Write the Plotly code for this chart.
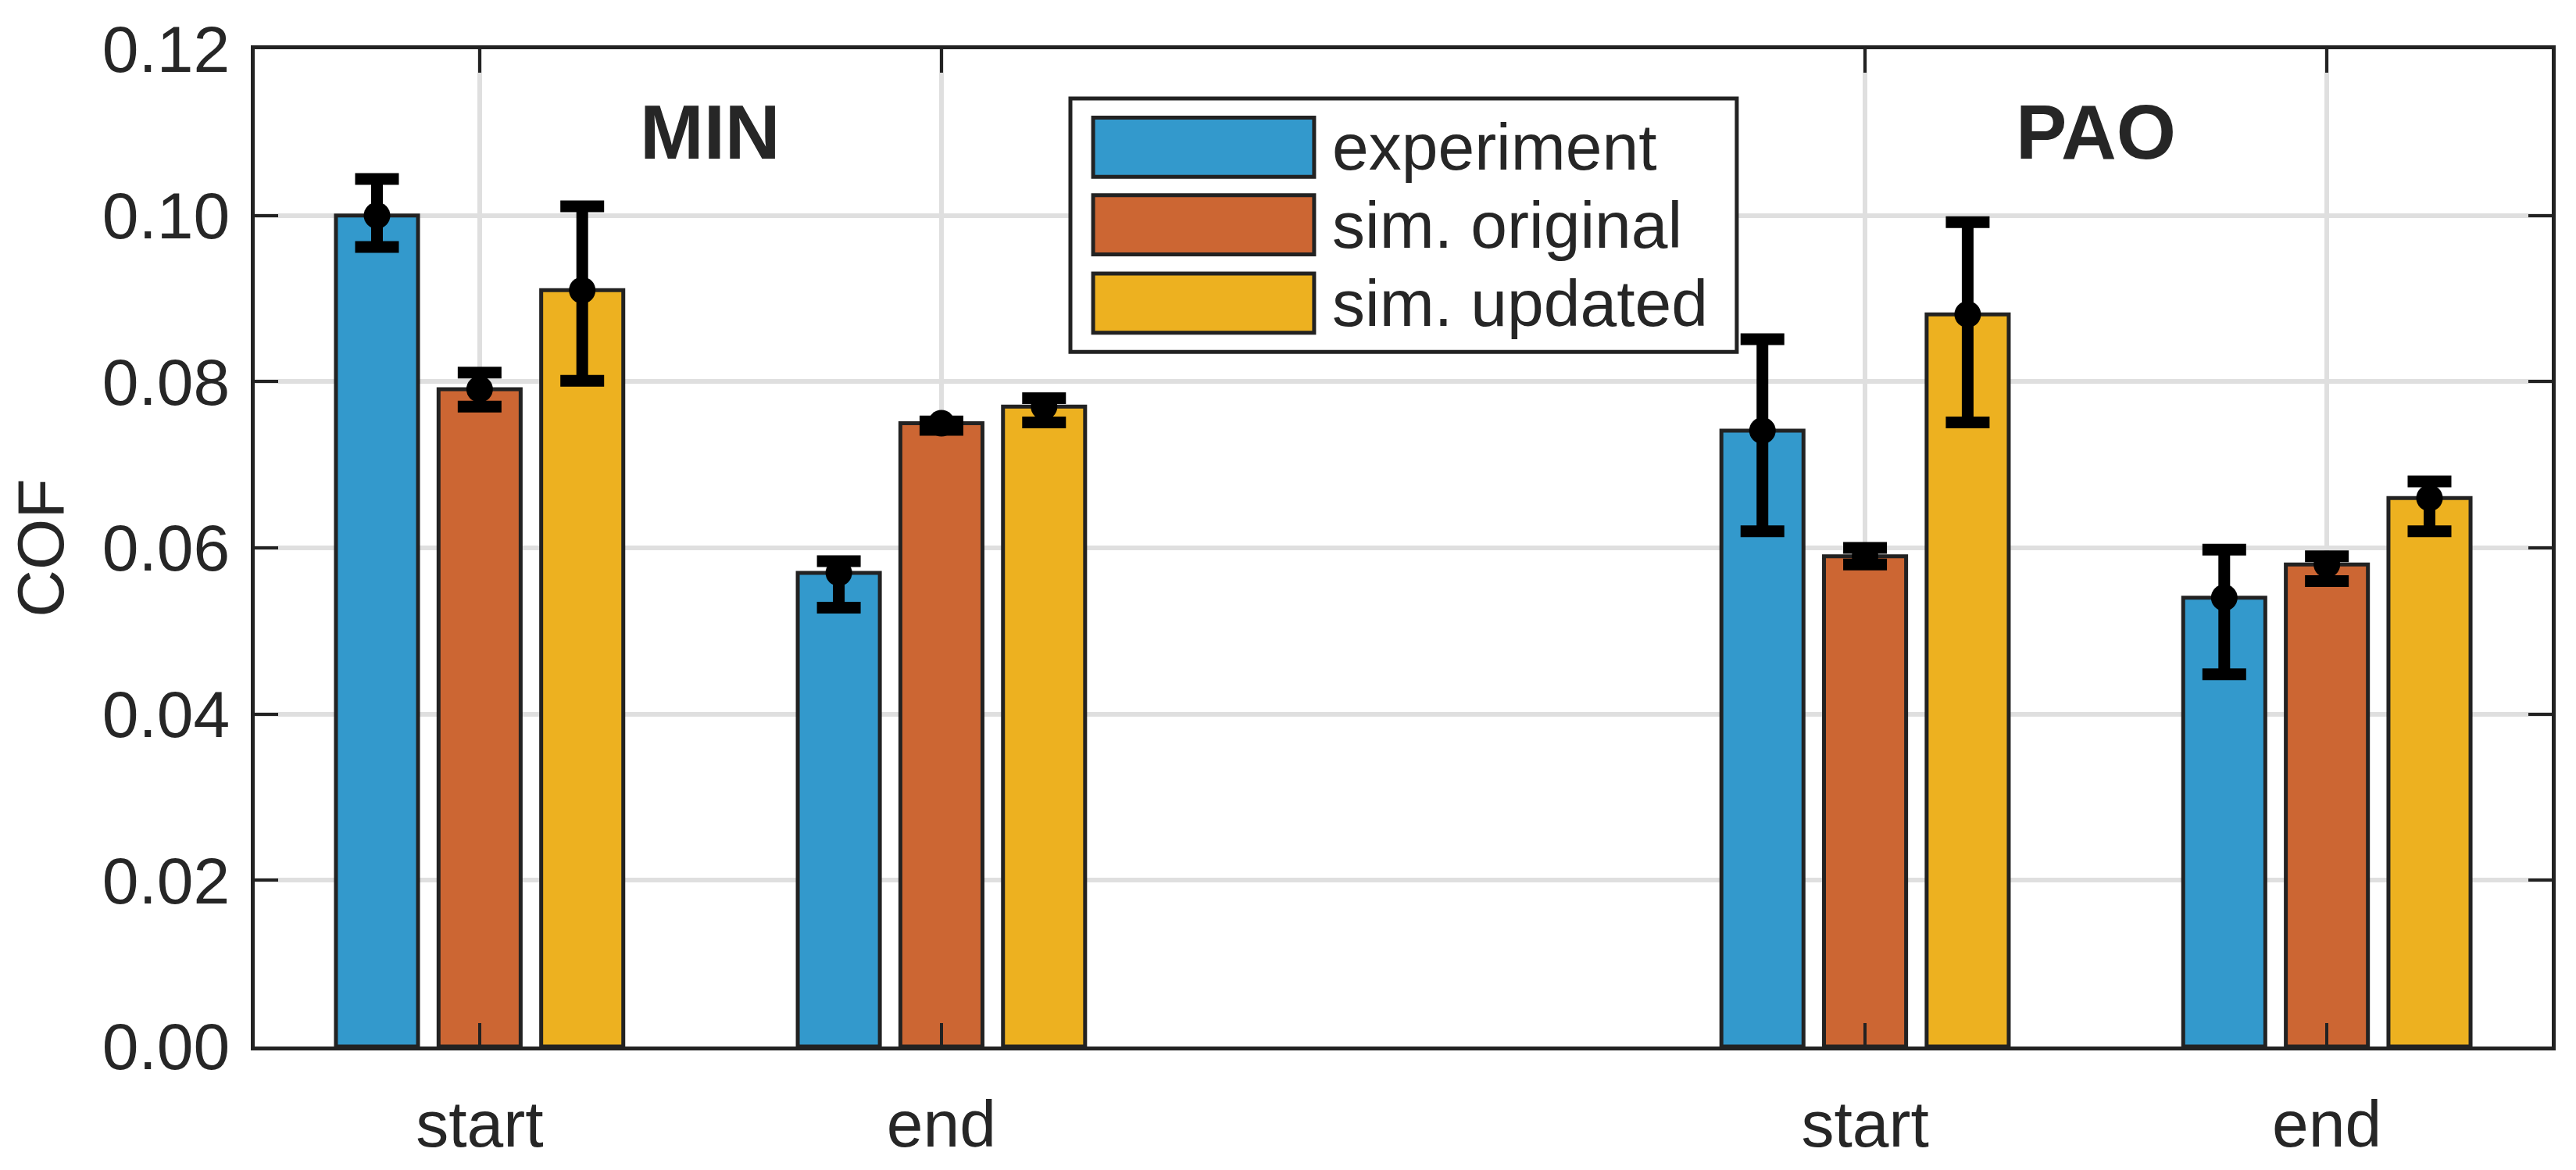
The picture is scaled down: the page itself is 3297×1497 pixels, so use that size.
import plotly.graph_objects as go

# ---- data ----
groups = ["MIN", "PAO"]
stages = ["start", "end"]
series_names = ["experiment", "sim. original", "sim. updated"]
series_colors = ["#3399CC", "#CC6633", "#EDB120"]

experiment = [0.1000, 0.0570, 0.0741, 0.0540]
experiment_err_plus = [0.0044, 0.0014, 0.0110, 0.0058]
experiment_err_minus = [0.0038, 0.0042, 0.0121, 0.0092]

sim_original = [0.0791, 0.0750, 0.0590, 0.0580]
sim_original_err_plus = [0.0020, 0.0002, 0.0010, 0.0010]
sim_original_err_minus = [0.0021, 0.0008, 0.0010, 0.0020]

sim_updated = [0.0910, 0.0770, 0.0881, 0.0660]
sim_updated_err_plus = [0.0101, 0.0010, 0.0111, 0.0020]
sim_updated_err_minus = [0.0109, 0.0019, 0.0130, 0.0040]

y_ticks = [0.00, 0.02, 0.04, 0.06, 0.08, 0.10, 0.12]

values = [experiment, sim_original, sim_updated]
err_plus = [experiment_err_plus, sim_original_err_plus, sim_updated_err_plus]
err_minus = [experiment_err_minus, sim_original_err_minus, sim_updated_err_minus]

# ---- layout of categories ----
positions = []
tick_text = []
for gi, g in enumerate(groups):
    for si, s in enumerate(stages):
        positions.append(gi * (len(stages) + 1) + si + 1)
        tick_text.append(s)

n_series = len(series_names)
group_width = min(0.8, n_series / (n_series + 1.5))
bar_w = group_width / n_series * 0.8
offsets = [-group_width / 2 + (2 * i + 1) * group_width / (2 * n_series) for i in range(n_series)]

FONT = "Liberation Sans, Arial, Helvetica, sans-serif"
TXT = "#262626"
EDGE = "#222222"

fig = go.Figure()
for i in range(n_series):
    xs = [p + offsets[i] for p in positions]
    fig.add_trace(go.Bar(
        x=xs, y=values[i], width=bar_w, name=series_names[i],
        marker=dict(color=series_colors[i], line=dict(color=EDGE, width=5)),
        showlegend=False,
    ))
for i in range(n_series):
    xs = [p + offsets[i] for p in positions]
    fig.add_trace(go.Scatter(
        x=xs, y=values[i], mode="markers",
        marker=dict(color="black", size=34),
        error_y=dict(type="data", symmetric=False, array=err_plus[i], arrayminus=err_minus[i],
                     color="black", thickness=15, width=28),
        showlegend=False,
    ))

# group labels
group_centers = [(positions[gi * len(stages)] + positions[gi * len(stages) + len(stages) - 1]) / 2
                 for gi in range(len(groups))]
for gi, g in enumerate(groups):
    fig.add_annotation(x=group_centers[gi], y=0.11, xref="x", yref="y", text="<b>%s</b>" % g,
                       showarrow=False, font=dict(family=FONT, size=98, color=TXT),
                       xanchor="center", yanchor="middle")

# manual legend (paper coordinates)
lx0, lx1, ly0, ly1 = 0.3551, 0.6452, 0.6965, 0.9507
fig.add_shape(type="rect", xref="paper", yref="paper", x0=lx0, x1=lx1, y0=ly0, y1=ly1,
              fillcolor="white", line=dict(color=EDGE, width=5), layer="above")
row_tops = [0.9314, 0.8536, 0.7750]
row_h = 0.0593
for i in range(n_series):
    fig.add_shape(type="rect", xref="paper", yref="paper", x0=0.3650, x1=0.4612,
                  y0=row_tops[i] - row_h, y1=row_tops[i],
                  fillcolor=series_colors[i], line=dict(color=EDGE, width=5), layer="above")
    fig.add_annotation(x=0.4684, y=row_tops[i] - row_h / 2, xref="paper", yref="paper",
                       text=series_names[i], showarrow=False, xanchor="left", yanchor="middle",
                       font=dict(family=FONT, size=84, color=TXT))

axis_common = dict(
    showline=True, linecolor=EDGE, linewidth=5, mirror="ticks",
    ticks="inside", ticklen=30, tickwidth=4, tickcolor=EDGE,
    showgrid=True, gridcolor="#DFDFDF", gridwidth=6, zeroline=False,
    tickfont=dict(family=FONT, size=84, color=TXT),
)

fig.update_layout(
    width=3297, height=1497,
    margin=dict(l=326, r=31, t=63, b=136, pad=0),
    plot_bgcolor="white", paper_bgcolor="white",
    barmode="overlay",
    xaxis=dict(range=[0.513, 5.487], tickvals=positions, ticktext=tick_text,
               ticklabelstandoff=22, **axis_common),
    yaxis=dict(range=[0, 0.12], tickvals=y_ticks, tickformat=".2f",
               ticklabelstandoff=10,
               title=dict(text="COF", font=dict(family=FONT, size=84, color=TXT), standoff=23),
               **axis_common),
)

fig.write_html("out.html", config={"displayModeBar": False},
               post_script="document.body.style.margin='0';")
